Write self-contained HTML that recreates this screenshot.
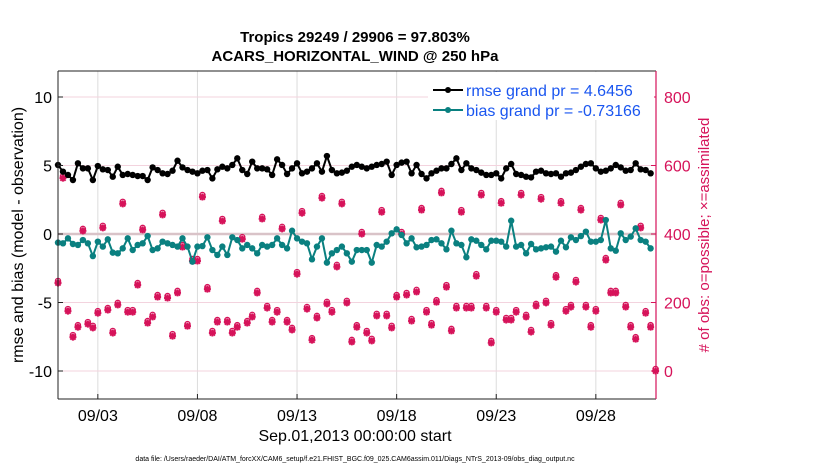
<!DOCTYPE html>
<html><head><meta charset="utf-8">
<style>
body{margin:0;background:#fff;width:830px;height:470px;overflow:hidden;font-family:"Liberation Sans",sans-serif}
svg text{font-family:"Liberation Sans",sans-serif}
</style></head>
<body>
<svg id="chart" width="830" height="470" xmlns="http://www.w3.org/2000/svg">
<text x="355" y="42" font-size="15" font-weight="bold" text-anchor="middle">Tropics 29249 / 29906 = 97.803%</text>
<text x="355" y="61" font-size="15" font-weight="bold" text-anchor="middle">ACARS_HORIZONTAL_WIND @ 250 hPa</text>
<g id="grid"></g>
<g id="marks"></g>
<g id="axes"></g>
<text x="355" y="441" font-size="16" text-anchor="middle">Sep.01,2013 00:00:00 start</text>
<text x="355" y="461" font-size="7" text-anchor="middle">data file: /Users/raeder/DAI/ATM_forcXX/CAM6_setup/f.e21.FHIST_BGC.f09_025.CAM6assim.011/Diags_NTrS_2013-09/obs_diag_output.nc</text>
<text transform="translate(23,235) rotate(-90)" font-size="16" text-anchor="middle">rmse and bias (model - observation)</text>
<text transform="translate(709,235) rotate(-90)" font-size="15" fill="#d6135a" text-anchor="middle"># of obs: o=possible; ×=assimilated</text>
<g>
<rect x="428" y="72" width="226" height="48" fill="#fff"/>
<g>
<line x1="433" y1="90" x2="463" y2="90" stroke="#000" stroke-width="2"/><circle cx="448" cy="90" r="3" fill="#000"/>
<text x="466" y="96" font-size="16" fill="#1a56f0">rmse grand pr = 4.6456</text></g>
<g>
<line x1="433" y1="110" x2="463" y2="110" stroke="#0a8080" stroke-width="2"/><circle cx="448" cy="110" r="3" fill="#0a8080"/>
<text x="466" y="116" font-size="16" fill="#1a56f0">bias grand pr = -0.73166</text></g>
</g>
</svg>
<script>
const rmse=[5.04,4.55,4.31,3.94,5.16,4.79,4.79,3.94,4.96,4.72,4.67,4.18,4.91,4.31,4.38,4.31,4.23,4.23,3.94,4.86,4.67,4.43,4.38,4.62,5.35,4.86,4.67,4.55,4.43,4.62,
4.67,4.06,4.72,4.91,4.79,5.04,5.52,4.67,4.38,5.28,4.79,4.79,4.72,4.31,5.45,5.04,4.38,4.79,5.16,4.43,4.55,4.79,5.16,4.55,5.69,4.67,4.43,4.48,4.62,
4.91,5.04,4.91,4.79,4.91,5.04,5.11,5.28,4.31,5.04,5.21,5.28,4.43,5.04,4.38,4.06,4.43,4.62,4.79,4.79,5.11,5.52,4.67,5.16,4.79,4.67,4.48,4.31,4.31,
4.43,4.06,4.79,5.11,4.38,4.31,4.18,4.13,4.55,4.62,4.43,4.38,4.43,4.18,4.43,4.48,4.67,4.91,5.11,5.16,4.79,4.55,4.62,4.79,5.04,4.86,4.62,4.67,5.16,4.72,4.67,4.43];
const bias=[-0.63,-0.68,-0.32,-0.73,-0.80,-0.44,-0.68,-1.61,-0.56,-0.92,-0.39,-1.36,-1.41,-1.05,-0.32,-1.17,-0.80,-0.68,-0.15,-1.17,-1.05,-0.56,-0.68,-0.80,-0.92,-0.32,-0.92,-2.02,-0.92,-0.88,
-0.24,-1.17,-1.53,-0.92,-1.53,-0.24,-0.44,-1.05,-0.80,-1.05,-1.41,-0.80,-0.92,-0.80,-0.32,-0.80,-1.05,0.24,-0.32,-0.56,-0.68,-1.85,-0.92,-0.32,-2.09,-1.41,-1.17,-0.92,-1.41,
-2.02,-1.17,-1.17,-1.17,-2.09,-0.80,-0.92,-0.56,0.05,0.34,-0.07,-0.68,-0.32,-0.97,-0.92,-0.80,-0.44,-0.39,-0.68,-1.12,0.24,-0.68,-0.80,-1.70,-0.39,-0.49,-0.80,-1.12,-0.49,
-0.49,-0.56,-0.92,0.97,-0.92,-0.80,-1.41,-0.73,-1.12,-1.05,-0.97,-0.92,-1.29,-0.49,-0.97,-0.24,-0.44,-0.15,0.17,-0.56,-0.56,-0.44,1.02,-1.05,-1.22,0.05,-0.44,-0.19,0.41,-0.44,-0.56,-1.05];
const counts=[257,563,175,99,128,409,137,126,169,418,178,111,193,488,172,172,251,412,140,158,216,456,213,102,228,362,131,321,321,508,
239,111,143,438,143,111,128,385,140,158,228,444,184,143,172,415,143,120,283,461,181,90,155,505,196,172,304,488,199,
85,128,400,111,88,161,464,161,126,216,400,222,146,231,470,172,134,201,520,245,117,184,464,184,184,277,514,184,82,
172,490,149,149,172,514,158,114,190,502,199,134,274,490,175,187,260,470,187,128,175,441,324,228,228,485,187,128,93,418,169,128,0];
const leftTicks=[-10,-5,0,5,10];
const rightTicks=[0,200,400,600,800];
const dateTicks=[2,7,12,17,22,27];
const dateLabels=["09/03","09/08","09/13","09/18","09/23","09/28"];
const PL=58,PR=656,PT=71,PB=399;
const step=4.98;
function xIdx(i){return PL+i*step;}
function xDay(d){return PL+d*4*step;}
function yL(v){return 234-v*13.7;}
function yR(c){return 371-c*0.3425;}
const NS="http://www.w3.org/2000/svg";
function mk(tag,attrs,parent){const e=document.createElementNS(NS,tag);for(const k in attrs)e.setAttribute(k,attrs[k]);parent.appendChild(e);return e;}
const grid=document.getElementById('grid'),marks=document.getElementById('marks'),axes=document.getElementById('axes');
mk('rect',{x:PL,y:PT,width:PR-PL,height:PB-PT,fill:'#fff'},grid);
dateTicks.forEach(d=>{const l=mk('line',{x1:xDay(d),x2:xDay(d),y1:PT,y2:PB,stroke:'#dcdcdc','stroke-width':1},grid);

});
leftTicks.forEach(v=>{const l=mk('line',{x1:PL,x2:PR,y1:yL(v),y2:yL(v),stroke:'#dcdcdc','stroke-width':1},grid);

});
rightTicks.forEach(v=>{const l=mk('line',{x1:PL,x2:PR,y1:yR(v),y2:yR(v),stroke:'#f3d3de','stroke-width':1},grid);

});
const zl=mk('line',{x1:PL,x2:PR,y1:yL(0),y2:yL(0),stroke:'#d9c3c8','stroke-width':2.5},grid);


// counts markers
counts.forEach((c,i)=>{const x=xIdx(i),y=yR(c);
const g=mk('g',{},marks);


mk('circle',{cx:x,cy:y-2,r:2.6,fill:'none',stroke:'#d6135a','stroke-width':1.3},g);
mk('path',{d:`M${x-3.5},${y}h7M${x},${y-3.5}v7M${x-2.6},${y-2.6}l5.2,5.2M${x+2.6},${y-2.6}l-5.2,5.2`,stroke:'#d6135a','stroke-width':2},g);});
function series(arr,color,name){
const pts=arr.map((v,i)=>xIdx(i)+','+yL(v)).join(' ');
const pl=mk('polyline',{points:pts,fill:'none',stroke:color,'stroke-width':2},marks);


arr.forEach((v,i)=>{const c=mk('circle',{cx:xIdx(i),cy:yL(v),r:3.2,fill:color},marks);

});}
series(bias,'#0a8080','bias');
series(rmse,'#000000','rmse');
// axes
mk('line',{x1:PL,x2:PL,y1:PT,y2:PB,stroke:'#222','stroke-width':1},axes);
mk('line',{x1:PL,x2:PR,y1:PB,y2:PB,stroke:'#222','stroke-width':1},axes);
mk('line',{x1:PL,x2:PR,y1:PT,y2:PT,stroke:'#222','stroke-width':1},axes);
mk('line',{x1:PR,x2:PR,y1:PT,y2:PB,stroke:'#d6135a','stroke-width':1.2},axes);
leftTicks.forEach(v=>{mk('line',{x1:PL,x2:PL+5,y1:yL(v),y2:yL(v),stroke:'#222'},axes);
const t=mk('text',{x:PL-6,y:yL(v)+6,'font-size':16,'text-anchor':'end'},axes);t.textContent=v;

});
rightTicks.forEach(v=>{mk('line',{x1:PR-5,x2:PR,y1:yR(v),y2:yR(v),stroke:'#d6135a'},axes);
const t=mk('text',{x:PR+8,y:yR(v)+6,'font-size':16,fill:'#d6135a'},axes);t.textContent=v;

});
dateTicks.forEach((d,k)=>{mk('line',{x1:xDay(d),x2:xDay(d),y1:PB-5,y2:PB,stroke:'#222'},axes);
const t=mk('text',{x:xDay(d),y:PB+22,'font-size':16,'text-anchor':'middle'},axes);t.textContent=dateLabels[k];

});
</script>
</body></html>
